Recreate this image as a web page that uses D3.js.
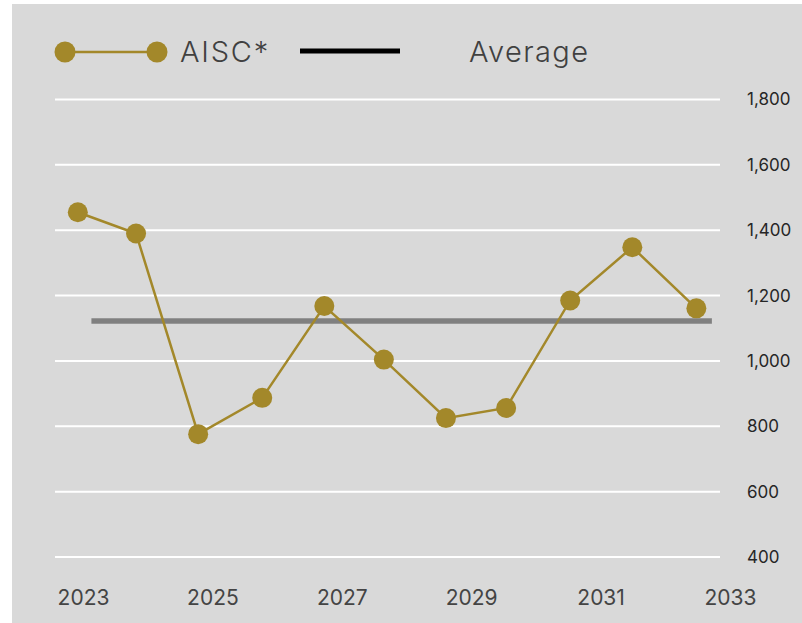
<!DOCTYPE html>
<html><head><meta charset="utf-8">
<script src="https://cdn.jsdelivr.net/npm/d3@7"></script>
<style>body{margin:0;background:#fff}svg{display:block}</style>
</head><body>
<svg id="c" width="802" height="623"></svg>
<script>
// ---- data ----
const pointYears = [2022.92, 2023.82, 2024.78, 2025.77, 2026.73, 2027.65, 2028.61, 2029.54, 2030.53, 2031.49, 2032.48];
const aiscValues = [1455, 1390, 776, 887, 1168, 1004, 825, 856, 1185, 1348, 1161];
const averageValue = 1122;
const averageSpan = [2023.13, 2032.72];
const xTickValues = [2023, 2025, 2027, 2029, 2031, 2033];
const yTickValues = [400, 600, 800, 1000, 1200, 1400, 1600, 1800];
const seriesNames = ["AISC*", "Average"];

const svg = d3.select("#c");
const gold = "#a3882a";
const font = "Inter, 'Noto Sans', sans-serif";

svg.append("rect").attr("x", 12).attr("y", 4).attr("width", 790).attr("height", 619).attr("fill", "#d9d9d9");

const x = d3.scaleLinear().domain([2023, 2033]).range([83, 730]);
const y = d3.scaleLinear().domain([400, 1800]).range([557, 99.5]);

// gridlines
svg.append("g").selectAll("line").data(yTickValues).join("line")
  .attr("x1", 55).attr("x2", 720)
  .attr("y1", d => y(d)).attr("y2", d => y(d))
  .attr("stroke", "#fff").attr("stroke-width", 2);

// y axis labels (right)
const yAxis = d3.axisRight(y).tickValues(yTickValues).tickFormat(d3.format(",")).tickSize(0).tickPadding(0);
const ya = svg.append("g").attr("transform", "translate(747,0)").call(yAxis);
ya.select(".domain").remove();
ya.selectAll("text").attr("font-family", font).attr("font-size", 17).attr("fill", "#262626");

// x axis labels
const xAxis = d3.axisBottom(x).tickValues(xTickValues).tickFormat(d3.format("d")).tickSize(0).tickPadding(0);
const xa = svg.append("g").attr("transform", "translate(0,590)").call(xAxis);
xa.select(".domain").remove();
xa.selectAll("text").attr("font-family", font).attr("font-size", 21).attr("fill", "#444").attr("dy", "0.71em");

// average line
svg.append("line")
  .attr("x1", x(averageSpan[0])).attr("x2", x(averageSpan[1]))
  .attr("y1", y(averageValue)).attr("y2", y(averageValue))
  .attr("stroke", "#808080").attr("stroke-width", 5.5);

// series line
const pts = pointYears.map((t, i) => [t, aiscValues[i]]);
svg.append("path").datum(pts)
  .attr("d", d3.line().x(d => x(d[0])).y(d => y(d[1])))
  .attr("fill", "none").attr("stroke", gold).attr("stroke-width", 2.5);
svg.append("g").selectAll("circle").data(pts).join("circle")
  .attr("cx", d => x(d[0])).attr("cy", d => y(d[1])).attr("r", 10)
  .attr("fill", gold);

// legend
const lg = svg.append("g");
lg.append("line").attr("x1", 65).attr("x2", 157).attr("y1", 52).attr("y2", 52).attr("stroke", gold).attr("stroke-width", 2.5);
lg.selectAll("circle").data([65, 157]).join("circle").attr("cx", d => d).attr("cy", 52).attr("r", 10.5).attr("fill", gold);
lg.append("text").attr("x", 180).attr("y", 62).text(seriesNames[0])
  .attr("font-family", font).attr("font-size", 29).attr("font-weight", 300).attr("letter-spacing", 1.8).attr("fill", "#404040");
lg.append("line").attr("x1", 300).attr("x2", 400).attr("y1", 51).attr("y2", 51).attr("stroke", "#000").attr("stroke-width", 5);
lg.append("text").attr("x", 469).attr("y", 62).text(seriesNames[1])
  .attr("font-family", font).attr("font-size", 29).attr("font-weight", 300).attr("letter-spacing", 1.4).attr("fill", "#404040");
</script>
</body></html>
